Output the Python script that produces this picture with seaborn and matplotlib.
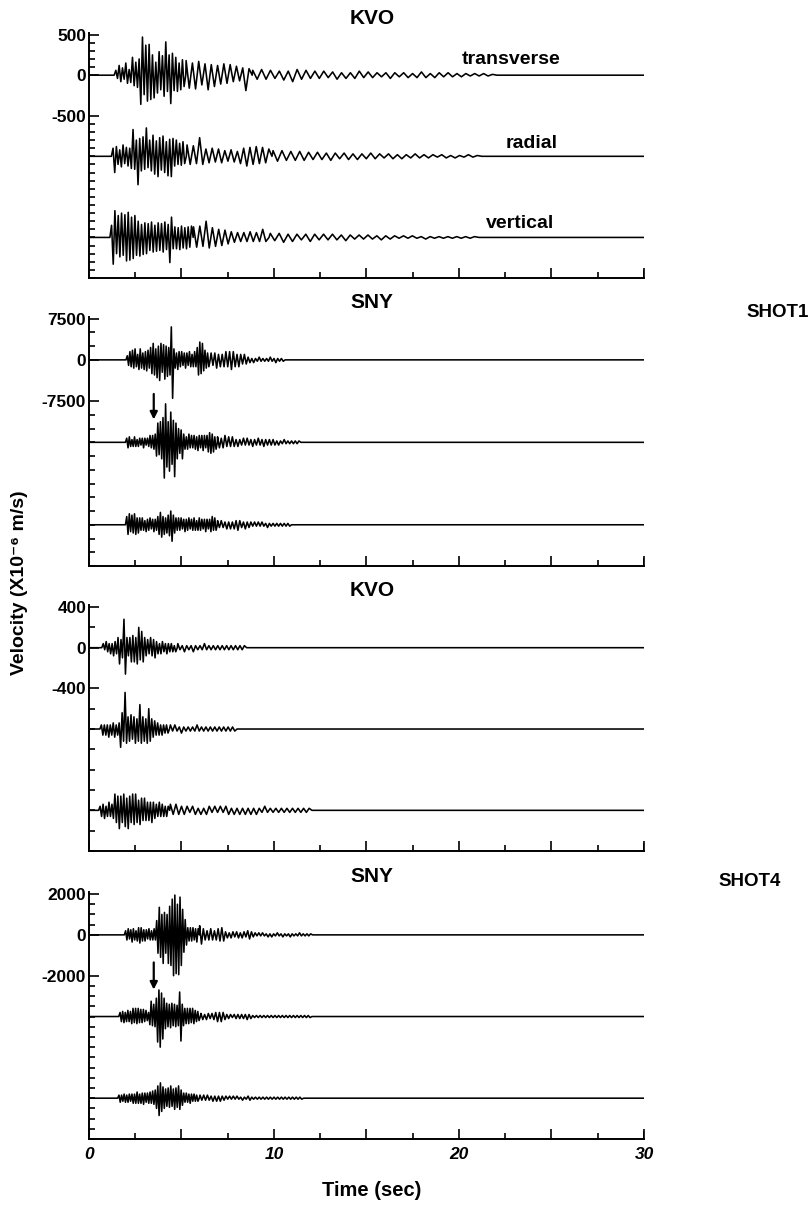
import numpy as np
import pandas as pd
import seaborn as sns
import matplotlib.pyplot as plt

# Seismogram traces.
# Each trace is a list of segments (start time s, spacing between extrema s, extrema).
# Extrema are counted in tenths of a minor y tick; signs alternate, first one upward.

# ---- SHOT1, KVO ----
kvo1_transverse = [
    (1.45, 0.09, [6, 4, 12, 8, 9, 5, 15, 10, 7, 9,
                  22, 13, 16, 15, 20, 36, 47, 24, 37, 32,
                  38, 30, 25, 28, 16, 22, 29, 18, 24, 26,
                  41, 20, 25, 35, 27, 19, 22, 20, 15, 18, 19, 14]),
    (5.25, 0.17, [18, 16, 15, 17, 17, 12, 14, 18, 13, 14, 12, 11, 14, 10, 13, 8, 11, 7, 9, 19, 8]),
    (8.85, 0.24, [6, 5, 7, 5, 6, 4, 5, 6, 5, 8, 7, 5, 6, 4, 5,
                  4, 5, 3, 4, 5, 3, 4, 3, 4, 5, 3, 4,
                  3, 3, 2, 3, 4, 3, 2, 3, 3, 2, 3, 4, 3, 2, 3, 3, 2, 3, 2, 2, 2,
                  2, 1, 2, 1, 2, 1, 1]),
]
kvo1_radial = [
    (1.30, 0.09, [10, 20, 12, 10, 8, 13, 14, 9, 11, 12,
                  10, 15, 33, 16, 20, 35, 22, 18, 24, 16,
                  35, 14, 20, 18, 26, 22, 19, 25, 23, 17,
                  25, 20, 18, 24, 21, 25, 22, 12, 20, 10, 16, 11, 18, 9]),
    (5.30, 0.17, [14, 10, 13, 9, 23, 10, 9, 8, 10, 7, 9, 8, 7, 6, 8, 7, 6, 9, 10, 12, 11, 10, 12, 9, 11, 8, 9]),
    (9.95, 0.24, [7, 6, 7, 5, 6, 5, 6, 5, 5, 4, 5, 4, 4, 5, 4, 3, 4, 4, 3, 4,
                  3, 3, 4, 3, 3, 2, 3, 3, 2, 3, 2, 2, 3, 2, 2, 2, 2, 1, 2, 2,
                  1, 2, 1, 1, 2, 1, 1]),
]
kvo1_vertical = [
    (1.22, 0.09, [15, 33, 33, 20, 27, 24, 30, 22, 28, 29,
                  31, 28, 25, 26, 27, 22, 20, 23, 16, 21,
                  18, 20, 17, 16, 19, 18, 15, 17, 18, 16,
                  17, 18, 19, 15, 16, 31, 25, 14, 13, 14,
                  12, 15, 14, 13, 12, 14, 13, 12, 14]),
    (5.65, 0.17, [13, 12, 14, 11, 20, 13, 12, 11, 10, 10, 9, 8, 7, 6, 6, 5, 6, 5, 7, 5, 6, 5, 10, 5]),
    (9.80, 0.24, [5, 4, 5, 6, 4, 5, 4, 3, 4, 5, 4, 3, 4, 3, 4, 3, 3, 4, 3, 2,
                  3, 2, 3, 2, 2, 3, 2, 2, 2, 1, 2, 1, 2, 1, 1, 2, 1, 1, 1, 1,
                  1, 1, 1, 1, 1, 1, 1]),
]

# ---- SHOT1, SNY ----
sny1_transverse = [
    (2.07, 0.07, [3, 4, 6, 5, 7, 6, 8, 5, 4, 7, 8, 6, 5, 7, 6, 8, 7, 6,
                  9, 10, 12, 11, 8, 13, 10, 15, 12, 9, 11, 14, 10, 12, 9, 11,
                  24, 28,
                  8, 6, 5, 7, 6, 5, 6, 4, 5, 6, 5, 4, 6, 5, 4, 5, 6, 5,
                  9, 11, 13, 10, 12, 8, 7,
                  6, 5, 5]),
    (6.60, 0.10, [5, 4, 5, 6, 4, 5, 4, 5, 6, 5, 6, 7, 6, 5, 4, 5, 4, 3, 4, 3,
                  2, 2, 1, 2, 1, 1, 2, 1, 1, 1, 1, 1, 2, 1, 1, 2, 1, 1, 1, 1]),
]
sny1_radial = [
    (2.04, 0.07, [3, 4, 4, 3, 2, 3, 4, 3, 2, 3, 3, 2, 3, 4, 3, 2, 3, 3,
                  5, 4, 5, 5, 6,
                  10, 14, 9, 15, 12, 18, 26, 28, 18, 15, 21, 22, 16, 16, 25, 14, 12, 10, 8,
                  9, 12, 6,
                  5, 4, 5, 6, 4, 5, 4, 5, 5, 4, 6, 5, 4, 5, 6, 5, 4, 5,
                  7, 7, 8, 6, 7,
                  4, 5]),
    (6.95, 0.10, [4, 4, 3, 4, 5, 3, 4, 3, 4, 3, 2, 3, 2, 2, 3, 2, 3, 2, 2, 3,
                  2, 2, 3, 2, 2, 3, 2, 2, 2, 2, 2, 2, 1, 2, 1, 1, 2, 1, 1, 1,
                  1, 1, 1, 1, 1]),
]
sny1_vertical = [
    (2.04, 0.07, [6, 7, 8, 5, 7, 6, 8, 7, 5, 6, 5,
                  4, 5, 4, 3, 5, 4, 4, 5, 3, 4, 5, 4, 4,
                  6, 7, 9, 9, 6, 7, 5, 6, 7, 8, 10, 12, 7, 6, 5,
                  4, 5, 4, 5, 3, 4, 5, 4, 4, 5, 3, 4, 4, 5, 4, 3, 4, 5, 4, 4, 3, 4, 5, 4, 3, 4, 5, 6, 4, 5, 4]),
    (6.95, 0.10, [3, 2, 3, 2, 2, 3, 2, 3, 2, 3, 3, 4, 3, 2, 2, 3, 2, 2, 2, 1,
                  2, 1, 2, 1, 2, 1, 1, 2, 1, 1, 1, 1, 1, 1, 1, 1, 1, 1, 1, 1]),
]

# ---- SHOT4, KVO ----
kvo4_transverse = [
    (0.77, 0.08, [2, 1, 3, 2, 2, 3, 2, 4, 3, 3, 5,
                  8, 4, 5,
                  14, 13,
                  5, 4, 5, 7, 6, 7, 5, 8,
                  10, 6, 8, 7,
                  5, 4, 4, 3, 5, 4, 4, 5, 3,
                  3, 2, 3, 3, 2, 2, 3, 2, 2, 2, 2, 1, 2]),
    (4.80, 0.12, [2, 1, 1, 2, 1, 1, 1, 2, 1, 1, 1, 1, 2, 1, 1, 1, 1, 1, 1, 1,
                  1, 1, 1, 1, 1, 1, 1, 1, 1, 1, 1]),
]
kvo4_radial = [
    (0.67, 0.08, [2, 3, 2, 3, 2, 4, 2, 3, 3, 4, 2, 3, 3,
                  9, 8, 6,
                  18, 7,
                  6, 6, 7, 5, 6, 7, 5, 6,
                  12, 7,
                  6, 6, 5, 7, 10, 6,
                  5, 4, 4, 3, 3, 3, 2, 3, 2, 2, 2, 2]),
    (4.40, 0.12, [2, 1, 2, 1, 1, 2, 1, 1, 1, 1, 1, 1, 2, 1, 1, 1, 1, 1, 1, 1,
                  1, 1, 1, 1, 1, 1, 1, 1, 1, 1]),
]
kvo4_vertical = [
    (0.60, 0.08, [2, 3, 3, 4, 2, 3, 4, 3, 3, 4,
                  8, 6, 7, 9,
                  7, 6, 8, 8, 6, 9, 7, 6, 8, 7, 8, 6, 5, 7, 6, 5, 6,
                  5, 4, 5, 4, 6, 4, 4,
                  3, 3, 4, 3, 3, 3, 2, 3, 2]),
    (4.40, 0.15, [3, 2, 3, 2, 2, 2, 2, 1, 2, 2, 1, 2, 1, 2, 2, 1, 2, 1, 2, 1,
                  2, 2, 1, 2, 1, 2, 1, 2, 1, 2, 1, 2, 1, 1, 2, 1, 1, 1, 1, 1,
                  1, 1, 1, 1, 1, 1, 1, 1, 1, 1, 1]),
]

# ---- SHOT4, SNY ----
sny4_transverse = [
    (1.98, 0.07, [4, 5, 6, 4, 5, 7, 6, 5, 4, 6, 7, 8, 7, 6, 5, 6, 5, 4, 6,
                  5, 4, 5, 6, 5,
                  14, 18, 27, 22, 20, 28,
                  22, 18, 20, 28,
                  28, 30, 35, 40, 39, 38, 30,
                  39, 37, 30, 25,
                  17, 15, 10,
                  7, 6, 7, 6, 7, 5, 6, 7, 6]),
    (5.98, 0.10, [9, 9, 6, 5, 4, 5, 6, 5, 4, 5, 6, 6, 7, 6, 3, 3, 2, 3, 3, 2,
                  3, 3, 2, 3, 3, 2, 4, 4, 3, 2, 2, 1, 2, 1, 2, 1, 1, 2, 1, 2,
                  1, 1, 2, 1, 1, 2, 1, 1, 1, 2, 1, 1, 1, 1, 2, 1, 1, 1, 1, 1, 1]),
]
sny4_radial = [
    (1.68, 0.07, [4, 5, 5, 6, 4, 5, 6, 5, 5,
                  7, 8, 6, 8, 7, 8, 6, 7, 6, 7, 5, 6,
                  4, 4,
                  8, 15, 9, 12, 10,
                  18, 25, 26, 30, 23, 22, 18,
                  12, 13, 10, 12, 11, 13, 9, 12, 10, 11, 9,
                  24, 24,
                  12, 9, 8, 7, 8, 7, 8, 6, 8, 7, 6, 5, 5, 4]),
    (6.05, 0.10, [3, 3, 2, 3, 3, 2, 3, 3, 4, 5, 4, 5, 4, 3, 2, 2, 2, 1, 2, 2,
                  2, 2, 2, 2, 2, 3, 2, 2, 1, 1, 1, 1, 1, 1, 1, 1, 1, 1, 1, 1,
                  1, 1, 1, 1, 1, 1, 1, 1, 1, 1, 1, 1, 1, 1, 1, 1, 1, 1, 1, 1]),
]
sny4_vertical = [
    (1.62, 0.07, [3, 4, 3, 3, 4, 4, 3, 4, 4, 3, 4,
                  5, 4, 5, 6, 5, 4, 5, 5, 6, 5, 4, 5, 5,
                  6, 5, 7, 6, 8,
                  10, 12, 17, 15, 13, 11, 10,
                  9, 8, 10, 9, 12, 8, 9, 11, 10, 9, 12, 11, 8, 7,
                  5, 4, 5, 4, 4, 5, 4, 3, 4, 3, 3, 3]),
    (6.00, 0.10, [3, 2, 3, 2, 3, 2, 2, 3, 2, 3, 2, 3, 2, 2, 2, 1, 2, 1, 2, 1,
                  2, 1, 1, 2, 1, 1, 2, 2, 1, 1, 1, 1, 1, 1, 1, 1, 1, 1, 1, 1,
                  1, 1, 1, 1, 1, 1, 1, 1, 1, 1, 1, 1, 1, 1, 1, 1]),
]

panel_titles = ['KVO', 'SNY', 'KVO', 'SNY']
panel_traces = [
    [kvo1_transverse, kvo1_radial, kvo1_vertical],
    [sny1_transverse, sny1_radial, sny1_vertical],
    [kvo4_transverse, kvo4_radial, kvo4_vertical],
    [sny4_transverse, sny4_radial, sny4_vertical],
]
trace_offsets = [[0, -1000, -2000], [0, -15000, -30000], [0, -800, -1600], [0, -4000, -8000]]
y_labeled = [[500, 0, -500], [7500, 0, -7500], [400, 0, -400], [2000, 0, -2000]]
y_minor_step = [100, 2500, 200, 500]
y_limits = [(-2500, 520), (-37500, 7800), (-2000, 420), (-10000, 2100)]
component_names = ['transverse', 'radial', 'vertical']
component_times = [22.8, 23.9, 23.3]
component_heights = [195, 160, 175]
# arrows marking the onset on the radial SNY traces (time, tail, head)
arrow_marks = {1: (3.5, -5700, -11350), 3: (3.5, -1215, -2815)}
x_ticks = [0, 10, 20, 30]


def trace_points(segments, base, unit):
    t = [0.0, segments[0][0] - segments[0][1]]
    v = [base, base]
    for t0, step, amps in segments:
        for i, a in enumerate(amps):
            t.append(t0 + i * step)
            v.append(base + (a if i % 2 == 0 else -a) * unit)
        t.append(t0 + len(amps) * step)
        v.append(base)
    t.append(30.0)
    v.append(base)
    return pd.DataFrame({'time': t, 'vel': v})


sns.set_style('ticks')
plt.rcParams['font.family'] = ['Liberation Sans', 'DejaVu Sans']
plt.rcParams['font.weight'] = 'bold'
for key in ['text.color', 'axes.labelcolor', 'xtick.color', 'ytick.color', 'axes.edgecolor']:
    plt.rcParams[key] = 'black'

W, H = 812, 1207
fig = plt.figure(figsize=(W / 100, H / 100), dpi=100)

# panel boxes in pixels (top, bottom)
boxes = [(33, 278), (317, 566), (605, 851), (892, 1139)]
left_px, right_px = 89, 644

for k in range(4):
    top, bot = boxes[k]
    ax = fig.add_axes([left_px / W, 1 - bot / H, (right_px - left_px) / W, (bot - top) / H])
    unit = y_minor_step[k] / 10
    for comp, (segs, off) in enumerate(zip(panel_traces[k], trace_offsets[k])):
        df = trace_points(segs, off, unit)
        sns.lineplot(data=df, x='time', y='vel', ax=ax, color='black', linewidth=1.15,
                     estimator=None, sort=False, legend=False)
        if k == 0:
            ax.text(component_times[comp], off + component_heights[comp], component_names[comp],
                    ha='center', va='center', fontsize=14, fontweight='bold')

    ax.set_xlim(0, 30)
    ax.set_ylim(*y_limits[k])
    ax.set_xticks(np.arange(0, 30.1, 5))
    ax.set_xticks(np.arange(2.5, 30, 5), minor=True)
    ax.set_yticks(y_labeled[k])
    ax.set_yticklabels([str(v) for v in y_labeled[k]], fontsize=12.5, fontweight='bold')
    lo, hi = y_limits[k]
    ax.set_yticks(np.arange(y_labeled[k][-1], lo - 1, -y_minor_step[k]).tolist()
                  + np.arange(0, hi + 1, y_minor_step[k]).tolist(), minor=True)
    ax.tick_params(axis='both', which='major', direction='in', length=7, width=1.2, pad=2)
    ax.tick_params(axis='both', which='minor', direction='in', length=4.5, width=1.2)
    ax.set_xlabel('')
    ax.set_ylabel('')
    if k < 3:
        ax.set_xticklabels([])
    else:
        ax.set_xticklabels([str(int(v)) if v in x_ticks else '' for v in np.arange(0, 30.1, 5)],
                           fontsize=12.5, fontweight='bold', style='italic')
        ax.tick_params(axis='x', which='major', pad=6)
    for s in ['top', 'right']:
        ax.spines[s].set_visible(False)
    for s in ['left', 'bottom']:
        ax.spines[s].set_linewidth(1.4)
    ax.plot([30, 30], [lo, lo + (hi - lo) * 0.03], color='black', lw=1.4)

    ax.text((372 - left_px) / (right_px - left_px), 1 + 15 / (bot - top), panel_titles[k],
            transform=ax.transAxes, ha='center', va='center', fontsize=15, fontweight='bold')

    if k in arrow_marks:
        ta, tail, head = arrow_marks[k]
        ax.annotate('', xy=(ta, head), xytext=(ta, tail),
                    arrowprops=dict(arrowstyle='-|>', color='black', lw=1.6, mutation_scale=11))

fig.text(809 / W, 1 - 312 / H, 'SHOT1', ha='right', va='center', fontsize=13.5, fontweight='bold')
fig.text(718 / W, 1 - 882 / H, 'SHOT4', ha='left', va='center', fontsize=13.5, fontweight='bold')
fig.text(20 / W, 1 - 583 / H, 'Velocity (X10\u207b\u2076 m/s)', rotation=90, ha='center', va='center',
         fontsize=14, fontweight='bold')
fig.text(372 / W, 1 - 1190 / H, 'Time (sec)', ha='center', va='center', fontsize=14.5, fontweight='bold')

fig.savefig('out.png', dpi=100)
